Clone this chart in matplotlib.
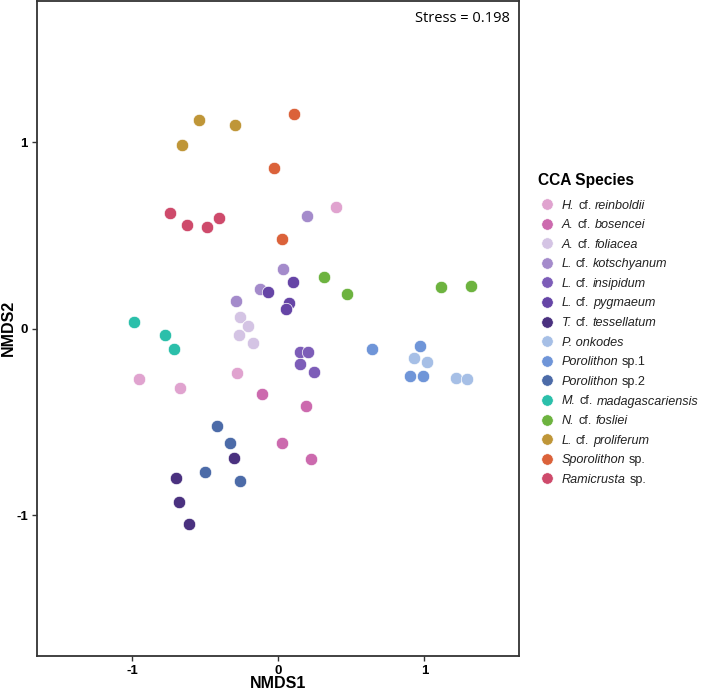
import numpy as np
import matplotlib
matplotlib.use('Agg')
import matplotlib.pyplot as plt
from matplotlib.lines import Line2D

plt.rcParams['font.family'] = ['Liberation Sans', 'DejaVu Sans']
plt.rcParams['axes.unicode_minus'] = False

# species labels (legend order, *...* = italic) and colours
species = ['*H.* cf. *reinboldii*', '*A.* cf. *bosencei*', '*A.* cf. *foliacea*',
           '*L.* cf. *kotschyanum*', '*L.* cf. *insipidum*', '*L.* cf. *pygmaeum*',
           '*T.* cf. *tessellatum*', '*P. onkodes*', '*Porolithon* sp.1',
           '*Porolithon* sp.2', '*M.* cf. *madagascariensis*', '*N.* cf. *fosliei*',
           '*L.* cf. *proliferum*', '*Sporolithon* sp.', '*Ramicrusta* sp.']
colors = ['#E0A3CF', '#CC6AAE', '#D4C4E4', '#A48BCB', '#7D5DB8', '#6645A6',
          '#4A317F', '#A6BFE6', '#6F95D8', '#4C6BA8', '#2BBFAA', '#6DB33F',
          '#BF9638', '#DB623A', '#CE4A6B']

# NMDS scores per species
nmds1 = [
    [0.392, -0.951, -0.675, -0.286],
    [-0.115, 0.188, 0.024, 0.223],
    [-0.262, -0.209, -0.268, -0.175],
    [0.195, 0.029, -0.129, -0.289],
    [0.149, 0.204, 0.145, 0.241],
    [0.101, -0.074, 0.072, 0.051],
    [-0.305, -0.700, -0.677, -0.613],
    [0.930, 1.015, 1.216, 1.291],
    [0.643, 0.971, 0.898, 0.990],
    [-0.419, -0.332, -0.501, -0.264],
    [-0.988, -0.779, -0.716],
    [0.312, 0.469, 1.115, 1.316],
    [-0.542, -0.300, -0.659],
    [0.104, -0.031, 0.024],
    [-0.743, -0.627, -0.488, -0.408],
]
nmds2 = [
    [0.651, -0.271, -0.320, -0.240],
    [-0.349, -0.413, -0.611, -0.699],
    [0.064, 0.016, -0.034, -0.075],
    [0.604, 0.322, 0.211, 0.149],
    [-0.123, -0.123, -0.189, -0.232],
    [0.250, 0.197, 0.138, 0.107],
    [-0.695, -0.800, -0.928, -1.049],
    [-0.155, -0.179, -0.263, -0.270],
    [-0.107, -0.091, -0.255, -0.254],
    [-0.520, -0.611, -0.768, -0.817],
    [0.034, -0.034, -0.109],
    [0.279, 0.186, 0.225, 0.231],
    [1.119, 1.091, 0.985],
    [1.150, 0.862, 0.479],
    [0.622, 0.554, 0.547, 0.592],
]
stress = 0.198

W, H = 702, 691
fig = plt.figure(figsize=(W/100, H/100), dpi=100)
ax = fig.add_axes([37/W, 1-656/H, 482/W, 655/H])

for i in range(len(species)):
    ax.scatter(nmds1[i], nmds2[i], s=80, color=colors[i], edgecolors='white',
               linewidths=0.5, zorder=3)

ax.set_xlim(-1.652, 1.647)
ax.set_ylim(-1.755, 1.757)
ax.set_xticks([-1, 0, 1])
ax.set_yticks([-1, 0, 1])
for sp in ax.spines.values():
    sp.set_color('#333333')
    sp.set_linewidth(1.3)
ax.tick_params(length=3.5, width=1, color='#333333', labelsize=9.5, pad=3)
for lab in ax.get_xticklabels() + ax.get_yticklabels():
    lab.set_fontweight('bold')

fig.text(278/W, 1-683/H, 'NMDS1', fontsize=11.5, fontweight='bold',
         ha='center', va='center')
fig.text(8/W, 1-328/H, 'NMDS2', fontsize=11.5, fontweight='bold',
         ha='center', va='center', rotation=90)

ax.text(0.981, 0.984, 'Stress = ' + str(stress), transform=ax.transAxes,
        ha='right', va='top', fontsize=10.5, family='Open Sans')

# legend drawn by hand: mixed italic / upright pieces chained together
fsize = 9.1
space = 0.3 * fsize

def draw_label(x, y, s):
    prev = None
    pending = 0
    for k, part in enumerate(s.split('*')):
        if part.strip(' ') == '':
            pending += len(part)
            continue
        pending += len(part) - len(part.lstrip(' '))
        style = 'italic' if k % 2 else 'normal'
        txt = part.strip(' ')
        if prev is None:
            prev = fig.text(x, y, txt, fontsize=fsize, style=style, ha='left',
                            va='bottom', color='#222222')
        else:
            prev = ax.annotate(txt, xy=(1, 0), xycoords=prev,
                               xytext=(pending*space, 0), textcoords='offset points',
                               fontsize=fsize, style=style, ha='left', va='bottom',
                               color='#222222', annotation_clip=False)
        pending = len(part) - len(part.rstrip(' '))

fig.text(538/W, 1-180/H, 'CCA Species', fontsize=11.2, fontweight='bold',
         ha='left', va='center')
for i in range(len(species)):
    yc = 204 + i*19.6
    fig.add_artist(Line2D([547.3/W], [1-yc/H], transform=fig.transFigure, marker='o',
                          linestyle='none', markersize=8.2, markerfacecolor=colors[i],
                          markeredgecolor='white', markeredgewidth=0.4))
    draw_label(561.7/W, 1-(yc+7.5)/H, species[i])

fig.savefig('out.png', dpi=100)
